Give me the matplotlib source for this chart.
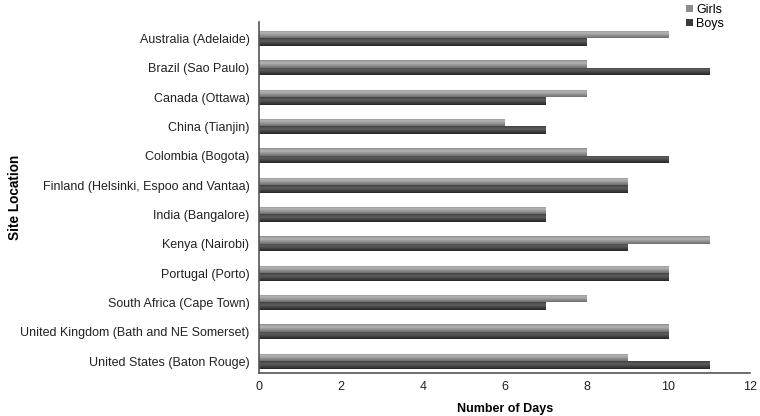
import numpy as np
import matplotlib
matplotlib.use('Agg')
import matplotlib.pyplot as plt

plt.rcParams['font.family'] = ['Liberation Sans', 'DejaVu Sans']

# Data
sites = ['Australia (Adelaide)', 'Brazil (Sao Paulo)', 'Canada (Ottawa)', 'China (Tianjin)',
         'Colombia (Bogota)', 'Finland (Helsinki, Espoo and Vantaa)', 'India (Bangalore)',
         'Kenya (Nairobi)', 'Portugal (Porto)', 'South Africa (Cape Town)',
         'United Kingdom (Bath and NE Somerset)', 'United States (Baton Rouge)']
girls = [10, 8, 8, 6, 8, 9, 7, 11, 10, 8, 10, 9]
boys = [8, 11, 7, 7, 10, 9, 7, 9, 10, 7, 10, 11]

fig = plt.figure(figsize=(7.6, 4.16), dpi=100)
ax = fig.add_axes([0.341, 0.103, 0.646, 0.844])

y = np.arange(len(sites))
h = 0.255
bars_g = ax.barh(y - h / 2, girls, height=h, color='#8c8c8c', label='Girls')
bars_b = ax.barh(y + h / 2, boys, height=h, color='#3a3a3a', label='Boys')

# cylinder-like shading on each bar
def shade(bars, light, dark):
    grad = np.linspace(0, 1, 64)
    prof = np.abs(grad - 0.35) / 0.65
    cmap = matplotlib.colors.LinearSegmentedColormap.from_list('c', [light, dark])
    for b in bars:
        x0, y0 = b.get_x(), b.get_y()
        w, hh = b.get_width(), b.get_height()
        im = ax.imshow(prof[:, None], extent=[x0, x0 + w, y0 + hh, y0], cmap=cmap,
                       aspect='auto', zorder=b.get_zorder() + 0.1, origin='upper')
        im.set_clip_path(b)

shade(bars_g, '#b4b4b4', '#6e6e6e')
shade(bars_b, '#5e5e5e', '#262626')

ax.set_ylim(len(sites) - 0.59, -0.56)
ax.set_xlim(0, 12)
ax.set_xticks(range(0, 13, 2))
ax.set_yticks(y)
ax.set_yticklabels(sites, fontsize=9, color='#222222')
ax.tick_params(axis='x', labelsize=9, colors='#222222', length=0, pad=6)
ax.tick_params(axis='y', length=0, pad=7)
for s in ['top', 'right']:
    ax.spines[s].set_visible(False)
for s in ['left', 'bottom']:
    ax.spines[s].set_color('#555555')
    ax.spines[s].set_linewidth(1.2)

ax.set_xlabel('Number of Days', fontsize=9, fontweight='bold', labelpad=7)
ax.set_ylabel('Site Location', fontsize=9.8, fontweight='bold')
ax.yaxis.set_label_coords(-0.484, 0.5)

ax.legend(loc='upper right', bbox_to_anchor=(0.96, 1.07), frameon=False, fontsize=9,
          handlelength=0.5, handleheight=0.5, handletextpad=0.3, labelspacing=0.15,
          borderpad=0)

fig.savefig('out.png', dpi=100)
